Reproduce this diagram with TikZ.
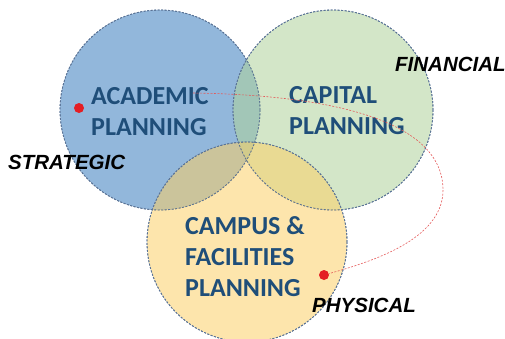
\documentclass[tikz,border=0pt]{standalone}
\usepackage{fontspec}
\setmainfont{Carlito}
\newfontfamily\labelfont{Liberation Sans}
\usetikzlibrary{calc}

\definecolor{acadblue}{RGB}{57,124,190}
\definecolor{capgreen}{RGB}{175,210,155}
\definecolor{campyellow}{RGB}{251,208,103}
\definecolor{rimgray}{RGB}{90,115,150}
\definecolor{titleblue}{RGB}{31,78,121}
\definecolor{dotred}{RGB}{228,30,36}
\definecolor{linkred}{RGB}{228,90,90}

\tikzset{
	zone/.style={draw=rimgray,line width=0.8pt,dash pattern=on 2pt off 1.5pt,fill opacity=0.55},
	title/.style={font=\fontsize{26}{31}\selectfont\bfseries,text=titleblue,align=left,inner sep=0pt,anchor=north west},
	aspect/.style={font=\labelfont\fontsize{20.5}{24}\selectfont\bfseries\itshape,inner sep=0pt,anchor=base west},
	reddot/.style={circle,fill=dotred,inner sep=0pt,minimum size=10pt}
}

\begin{document}
\begin{tikzpicture}[x=1pt,y=-1pt]
		\useasboundingbox (0,0) rectangle (505,338);
		\coordinate(A) at (160,110);
		\coordinate(C) at (333,110);
		\coordinate(F) at (247,242);

		% the three planning areas
		\fill[zone,fill=acadblue] (A) circle[radius=100pt];
		\fill[zone,fill=capgreen] (C) circle[radius=100pt];
		\fill[zone,fill=campyellow] (F) circle[radius=100pt];
		\draw[zone,fill=none] (A) circle[radius=100pt];
		\draw[zone,fill=none] (C) circle[radius=100pt];
		\draw[zone,fill=none] (F) circle[radius=100pt];

		\node[title] (acad) at (91,87) {ACADEMIC\\PLANNING};
		\node[title] (cap) at (289,86) {CAPITAL\\PLANNING};
		\node[title] (camp) at (185,216) {CAMPUS \&\\FACILITIES\\PLANNING};

		\node[aspect] (strat) at (8,169) {STRATEGIC};
		\node[aspect] (fin) at (395,71) {FINANCIAL};
		\node[aspect] (phys) at (312,312) {PHYSICAL};

		\node[reddot] (stratdot) at (79,108) {};
		\node[reddot] (physdot) at (324,275) {};

		% link through the capital area
		\coordinate(L) at (193,93);
		\draw[linkred,line width=0.6pt,dash pattern=on 2pt off 1.5pt] (L) .. controls (330,95) and (443,120) .. (443,190) .. controls (443,240) and (370,262) .. (physdot);
	\end{tikzpicture}
\end{document}
